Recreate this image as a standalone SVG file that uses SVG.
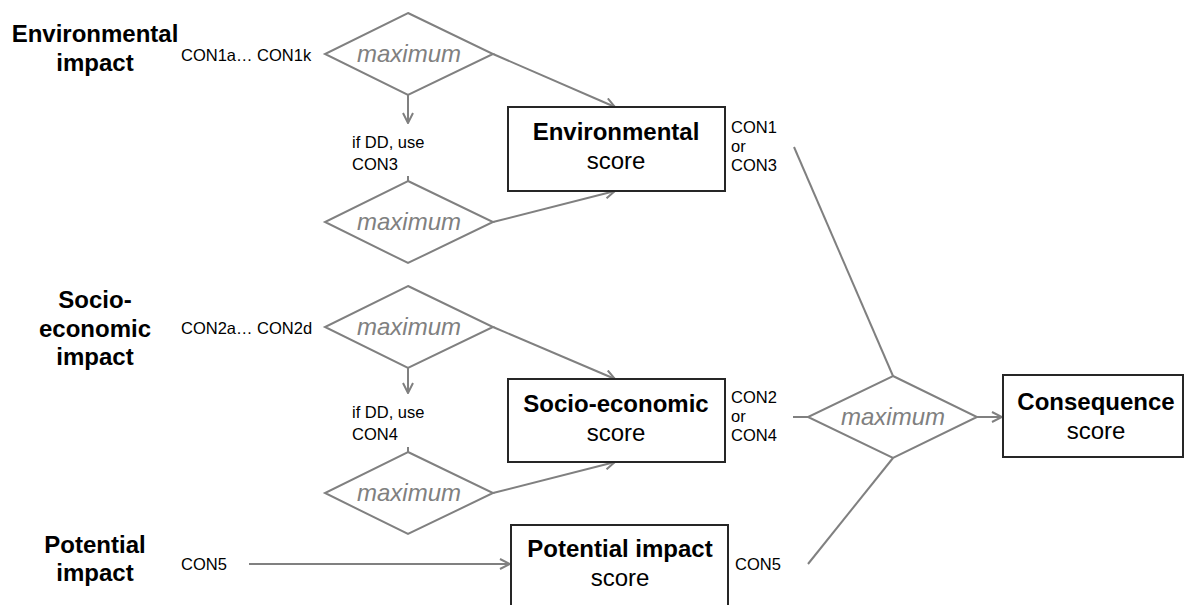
<svg xmlns="http://www.w3.org/2000/svg" width="1186" height="605" viewBox="0 0 1186 605">
<style>
  .bg { fill: #ffffff; }
  .dia { fill: none; stroke: #808080; stroke-width: 2; }
  .box { fill: #ffffff; stroke: #262626; stroke-width: 2; }
  .con { fill: none; stroke: #808080; stroke-width: 2; }
  .max { font-family: "Liberation Sans", Arial, sans-serif; font-size: 24px; font-style: italic; fill: #808080; text-anchor: middle; }
  .head { font-family: "Liberation Sans", Arial, sans-serif; font-size: 24px; font-weight: bold; fill: #000; text-anchor: middle; }
  .sub { font-family: "Liberation Sans", Arial, sans-serif; font-size: 24px; fill: #000; text-anchor: middle; }
  .lbl { font-family: "Liberation Sans", Arial, sans-serif; font-size: 16.5px; fill: #000; }
</style>
<defs>
  <marker id="arr" viewBox="0 0 12 12" refX="11" refY="6" markerWidth="12" markerHeight="12" markerUnits="userSpaceOnUse" orient="auto">
    <path d="M1,1 L11,6 L1,11" fill="none" stroke="#808080" stroke-width="2"/>
  </marker>
</defs>
<rect class="bg" x="0" y="0" width="1186" height="605"/>

<g id="label-env">
  <text class="head" x="95" y="42">Environmental</text>
  <text class="head" x="95" y="71">impact</text>
</g>
<g id="label-socio">
  <text class="head" x="95" y="308">Socio-</text>
  <text class="head" x="95" y="337">economic</text>
  <text class="head" x="95" y="365">impact</text>
</g>
<g id="label-pot">
  <text class="head" x="95" y="553">Potential</text>
  <text class="head" x="95" y="581">impact</text>
</g>

<g id="connectors">
  <line class="con" x1="408" y1="95" x2="408" y2="123" marker-end="url(#arr)"/>
  <line class="con" x1="408" y1="176" x2="408" y2="181"/>
  <line class="con" x1="493" y1="54" x2="615" y2="107" marker-end="url(#arr)"/>
  <line class="con" x1="493" y1="222" x2="615" y2="191" marker-end="url(#arr)"/>
  <line class="con" x1="408" y1="368" x2="408" y2="393" marker-end="url(#arr)"/>
  <line class="con" x1="408" y1="447" x2="408" y2="452"/>
  <line class="con" x1="493" y1="327" x2="615" y2="379" marker-end="url(#arr)"/>
  <line class="con" x1="493" y1="493" x2="615" y2="462" marker-end="url(#arr)"/>
  <line class="con" x1="249" y1="564" x2="510" y2="564" marker-end="url(#arr)"/>
  <line class="con" x1="794" y1="147" x2="893" y2="376"/>
  <line class="con" x1="793" y1="417" x2="808" y2="417"/>
  <line class="con" x1="808" y1="564" x2="893" y2="458"/>
  <line class="con" x1="977" y1="417" x2="1002" y2="417" marker-end="url(#arr)"/>
</g>

<g id="env-inputs">
  <text class="lbl" x="181" y="61">CON1a… CON1k</text>
  <text class="lbl" x="352" y="148">if DD, use</text>
  <text class="lbl" x="352" y="170">CON3</text>
</g>
<g id="socio-inputs">
  <text class="lbl" x="181" y="334">CON2a… CON2d</text>
  <text class="lbl" x="352" y="418">if DD, use</text>
  <text class="lbl" x="352" y="440">CON4</text>
</g>
<g id="pot-input">
  <text class="lbl" x="181" y="570">CON5</text>
</g>

<g id="max-env-1">
  <polygon class="dia" points="408,13 493,54 408,95 325,54"/>
  <text class="max" x="409" y="62">maximum</text>
</g>
<g id="max-env-2">
  <polygon class="dia" points="408,181 493,222 408,263 325,222"/>
  <text class="max" x="409" y="230">maximum</text>
</g>
<g id="max-socio-1">
  <polygon class="dia" points="408,286 493,327 408,368 325,327"/>
  <text class="max" x="409" y="335">maximum</text>
</g>
<g id="max-socio-2">
  <polygon class="dia" points="408,452 493,493 408,534 325,493"/>
  <text class="max" x="409" y="501">maximum</text>
</g>
<g id="max-final">
  <polygon class="dia" points="893,376 977,417 893,458 808,417"/>
  <text class="max" x="893" y="425">maximum</text>
</g>

<g id="env-score">
  <rect class="box" x="508" y="107" width="217" height="84"/>
  <text class="head" x="616" y="140">Environmental</text>
  <text class="sub" x="616" y="169">score</text>
  <text class="lbl" x="731" y="133">CON1</text>
  <text class="lbl" x="731" y="152">or</text>
  <text class="lbl" x="731" y="171">CON3</text>
</g>
<g id="socio-score">
  <rect class="box" x="508" y="379" width="217" height="83"/>
  <text class="head" x="616" y="412">Socio-economic</text>
  <text class="sub" x="616" y="441">score</text>
  <text class="lbl" x="731" y="403">CON2</text>
  <text class="lbl" x="731" y="422">or</text>
  <text class="lbl" x="731" y="441">CON4</text>
</g>
<g id="pot-score">
  <rect class="box" x="511" y="525" width="217" height="100"/>
  <text class="head" x="620" y="557">Potential impact</text>
  <text class="sub" x="620" y="586">score</text>
  <text class="lbl" x="735" y="570">CON5</text>
</g>
<g id="consequence-score">
  <rect class="box" x="1003" y="375" width="180" height="82"/>
  <text class="head" x="1096" y="410">Consequence</text>
  <text class="sub" x="1096" y="439">score</text>
</g>
</svg>
